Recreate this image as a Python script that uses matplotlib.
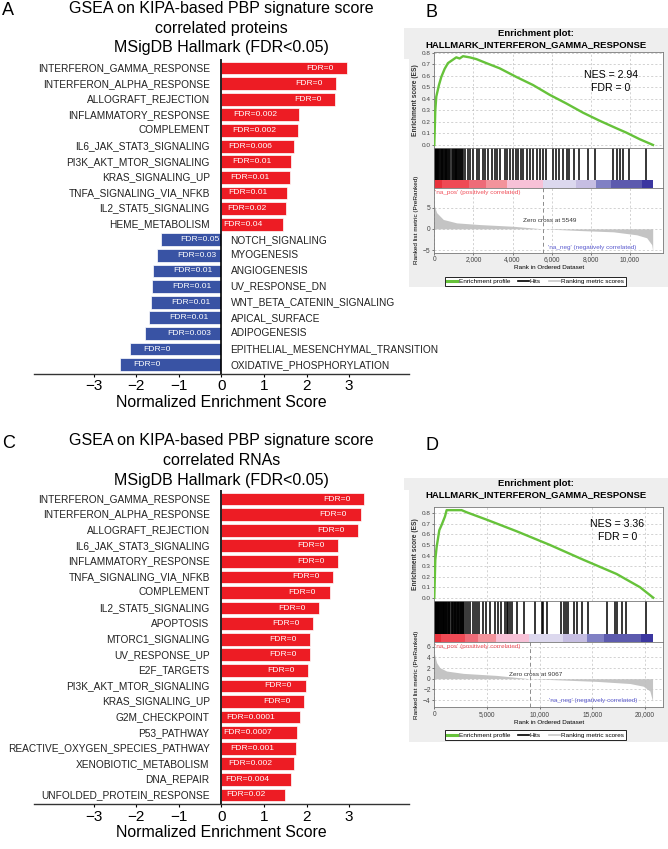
import matplotlib
matplotlib.use('Agg')
import matplotlib.pyplot as plt
import matplotlib.transforms as mtransforms
from matplotlib.lines import Line2D
import numpy as np

plt.rcParams['font.family'] = ['Liberation Sans', 'DejaVu Sans']

# ---- panel A: protein GSEA ----
a_terms = ['INTERFERON_GAMMA_RESPONSE', 'INTERFERON_ALPHA_RESPONSE', 'ALLOGRAFT_REJECTION',
           'INFLAMMATORY_RESPONSE', 'COMPLEMENT', 'IL6_JAK_STAT3_SIGNALING',
           'PI3K_AKT_MTOR_SIGNALING', 'KRAS_SIGNALING_UP', 'TNFA_SIGNALING_VIA_NFKB',
           'IL2_STAT5_SIGNALING', 'HEME_METABOLISM', 'NOTCH_SIGNALING', 'MYOGENESIS',
           'ANGIOGENESIS', 'UV_RESPONSE_DN', 'WNT_BETA_CATENIN_SIGNALING', 'APICAL_SURFACE',
           'ADIPOGENESIS', 'EPITHELIAL_MESENCHYMAL_TRANSITION', 'OXIDATIVE_PHOSPHORYLATION']
a_nes = [2.95, 2.69, 2.67, 1.83, 1.80, 1.71, 1.64, 1.60, 1.55, 1.52, 1.44,
         -1.43, -1.51, -1.60, -1.63, -1.65, -1.70, -1.80, -2.16, -2.39]
a_fdr = ['0', '0', '0', '0.002', '0.002', '0.006', '0.01', '0.01', '0.01', '0.02', '0.04',
         '0.05', '0.03', '0.01', '0.01', '0.01', '0.01', '0.003', '0', '0']

# ---- panel C: RNA GSEA ----
c_terms = ['INTERFERON_GAMMA_RESPONSE', 'INTERFERON_ALPHA_RESPONSE', 'ALLOGRAFT_REJECTION',
           'IL6_JAK_STAT3_SIGNALING', 'INFLAMMATORY_RESPONSE', 'TNFA_SIGNALING_VIA_NFKB',
           'COMPLEMENT', 'IL2_STAT5_SIGNALING', 'APOPTOSIS', 'MTORC1_SIGNALING',
           'UV_RESPONSE_UP', 'E2F_TARGETS', 'PI3K_AKT_MTOR_SIGNALING', 'KRAS_SIGNALING_UP',
           'G2M_CHECKPOINT', 'P53_PATHWAY', 'REACTIVE_OXYGEN_SPECIES_PATHWAY',
           'XENOBIOTIC_METABOLISM', 'DNA_REPAIR', 'UNFOLDED_PROTEIN_RESPONSE']
c_nes = [3.36, 3.27, 3.22, 2.75, 2.74, 2.63, 2.54, 2.29, 2.15, 2.09,
         2.08, 2.04, 1.98, 1.95, 1.84, 1.77, 1.75, 1.70, 1.64, 1.49]
c_fdr = ['0', '0', '0', '0', '0', '0', '0', '0', '0', '0', '0', '0', '0', '0',
         '0.0001', '0.0007', '0.001', '0.002', '0.004', '0.02']

# ---- panel B: enrichment plot (proteins) ----
b_es_rank = [0, 51, 102, 238, 358, 528, 698, 954, 1124, 1295, 1465, 1806, 2147, 2658,
             3339, 4190, 5042, 5894, 6745, 7597, 8449, 9300, 9811, 10492, 11174]
b_es_val = [0, 0.30, 0.42, 0.52, 0.59, 0.66, 0.71, 0.74, 0.76, 0.75, 0.77, 0.76, 0.745, 0.71,
            0.665, 0.59, 0.52, 0.435, 0.36, 0.28, 0.21, 0.145, 0.107, 0.05, 0]
b_hits = [5, 20, 40, 70, 95, 120, 150, 180, 210, 250, 290, 330, 370, 410, 450, 500, 540, 580,
          620, 670, 710, 760, 800, 900, 950, 1000, 1040, 1090, 1130, 1180, 1230, 1280, 1330,
          1380, 1430, 1480, 1567, 1738, 1823, 1959, 2164, 2300, 2504, 2590, 2760, 2930, 3100,
          3186, 3356, 3612, 3731, 3867, 4037, 4174, 4293, 4412, 4549, 4719, 4889, 5060, 5230,
          5400, 5571, 5707, 6082, 6218, 6388, 6593, 6763, 6899, 7138, 7411, 7871, 8212, 9148,
          9319, 9489, 9659, 9949, 10818]
b_cb_edges = [0, 375, 1790, 2640, 3700, 5570, 7220, 8245, 9030, 10600, 11160]
b_m_rank = [0, 34, 119, 460, 1141, 2334, 4037, 5549, 7445, 9148, 10340, 10852, 11107, 11158]
b_m_val = [5.5, 5.0, 3.8, 2.2, 1.4, 1.0, 0.6, 0, -0.4, -0.7, -1.4, -2.1, -3.7, -5.2]

# ---- panel D: enrichment plot (RNAs) ----
d_es_rank = [0, 95, 222, 475, 697, 1013, 1171, 1488, 2121, 2596, 3070, 4970, 7819, 10985,
             14150, 17316, 19532, 20798]
d_es_val = [0, 0.36, 0.48, 0.64, 0.69, 0.77, 0.83, 0.83, 0.83, 0.83, 0.81, 0.74, 0.63, 0.50,
            0.36, 0.225, 0.10, 0]
d_hits = [5, 30, 60, 100, 140, 180, 230, 280, 330, 380, 430, 480, 540, 600, 660, 720, 780,
          840, 900, 960, 1020, 1080, 1150, 1220, 1290, 1360, 1430, 1500, 1650, 1720, 1790,
          1860, 1930, 2000, 2070, 2140, 2210, 2280, 2350, 2420, 2490, 2560, 2630, 2700, 2753,
          2848, 3006, 3228, 3386, 3639, 3861, 4019, 4272, 4652, 4905, 5285, 5759, 6076, 6297,
          6709, 6867, 7025, 7183, 7342, 7880, 8513, 9557, 10190, 10348, 10665, 12025, 12310,
          12500, 12722, 13291, 13513, 13987, 14620, 16361, 17152, 17310, 17785, 18196, 20095]
d_cb_edges = [0, 633, 2911, 4177, 5854, 9019, 12184, 14525, 16139, 19589, 20728]
d_m_rank = [0, 63, 222, 538, 1171, 2753, 5918, 9067, 12247, 15411, 18576, 19842, 20475, 20728]
d_m_val = [4.9, 4.25, 3.0, 2.06, 1.44, 1.0, 0.62, 0, -0.25, -0.5, -0.9, -1.4, -2.3, -4.2]

cb_colors = ['#e8323c', '#ef4a55', '#ee6b78', '#f3939b', '#f7c1d7', '#dcd8ee', '#c6bee2',
             '#8080c4', '#5c5aae', '#3b36a0']

RED = '#ed1c24'
BLUE = '#3953a4'
GREEN = '#66c23a'

W, H = 668, 849
fig = plt.figure(figsize=(W / 100, H / 100), dpi=100)


def fx(x):
    return x / W


def fy(y):
    return 1 - y / H


def px_axes(x0, y0, x1, y1):
    return fig.add_axes([x0 / W, 1 - y1 / H, (x1 - x0) / W, (y1 - y0) / H])


fdr_texts = []


def nes_bars(ax, terms, nes, fdr):
    pos = np.arange(len(terms))
    cols = [RED if v > 0 else BLUE for v in nes]
    ax.barh(pos, nes, height=0.82, color=cols, edgecolor='white', linewidth=0.5, zorder=2)
    ax.axvline(0, color='black', lw=1.2, zorder=3)
    for p, v, term, f in zip(pos, nes, terms, fdr):
        if v > 0:
            ax.annotate(term, (0, p), xytext=(-8.5, 0), textcoords='offset points',
                        ha='right', va='center', fontsize=7.3, color='#222222')
        else:
            ax.annotate(term, (0, p), xytext=(6.5, 0), textcoords='offset points',
                        ha='left', va='center', fontsize=7.3, color='#222222')
        t = ax.text(v, p, 'FDR=' + f, ha='center', va='center', color='white',
                    fontsize=6.1, zorder=4)
        fdr_texts.append((t, -1 if v > 0 else 1))
    ax.set_xlim(-4.4, 4.4)
    ax.set_ylim(len(terms) - 0.42, -0.58)
    ax.set_xticks([-3, -2, -1, 0, 1, 2, 3])
    ax.set_yticks([])
    ax.tick_params(axis='x', labelsize=11, length=2.5, width=0.8, pad=1.5)
    for s in ['top', 'right', 'left']:
        ax.spines[s].set_visible(False)
    ax.spines['bottom'].set_linewidth(1.0)
    ax.spines['bottom'].set_color('#333333')
    ax.set_xlabel('Normalized Enrichment Score', fontsize=11.4, labelpad=1)


def gsea(lay, xmax, xticks, es_ylim, es_rank, es_val, nes_txt, hits, cb_edges,
         m_rank, m_val, m_ylim, m_ticks, zero, zlab, pos_lab, neg_lab):
    py0, py1, e0, e1, h1, r1, leg_y, nes_xy = lay
    bg = px_axes(404, py0, 668, py1)
    bg.set_facecolor('#eeeeee')
    bg.set_xticks([])
    bg.set_yticks([])
    for s in bg.spines.values():
        s.set_visible(False)
    bg.set_zorder(-1)
    fig.text(fx(536), fy(py0 + 5), 'Enrichment plot:', ha='center', va='center',
             fontsize=6.8, fontweight='bold')
    fig.text(fx(536), fy(py0 + 16.5), 'HALLMARK_INTERFERON_GAMMA_RESPONSE', ha='center',
             va='center', fontsize=6.8, fontweight='bold')

    ax1 = px_axes(434.3, e0, 663.3, e1)
    ax1.plot(es_rank, es_val, color=GREEN, lw=1.7, zorder=3)
    ax1.set_xlim(0, xmax)
    ax1.set_ylim(es_ylim)
    ax1.set_yticks(np.round(np.arange(0, 0.81, 0.1), 1))
    ax1.set_yticklabels(['%.1f' % v for v in np.arange(0, 0.81, 0.1)])
    ax1.set_xticks(xticks)
    ax1.set_xticklabels([])
    ax1.grid(True, ls=(0, (3, 3)), color='#c0c0c0', lw=0.5)
    ax1.tick_params(axis='y', labelsize=4.6, length=1.5, width=0.5, pad=1, colors='#444444')
    ax1.tick_params(axis='x', length=0)
    ax1.set_ylabel('Enrichment score (ES)', fontsize=4.8, fontweight='bold', labelpad=2,
                   color='#333333')
    ax1.text(nes_xy[0], nes_xy[1], nes_txt + '\nFDR = 0', transform=ax1.transAxes,
             ha='center', va='center', fontsize=7.6, linespacing=1.35)

    ax2 = px_axes(434.3, e1, 663.3, h1)
    ax2.vlines(hits, 0.19, 1, color='black', lw=1.1)
    for i in range(len(cb_edges) - 1):
        ax2.axvspan(cb_edges[i], cb_edges[i + 1], 0, 0.19, color=cb_colors[i], lw=0)
    ax2.set_xlim(0, xmax)
    ax2.set_ylim(0, 1)
    ax2.set_xticks([])
    ax2.set_yticks([])

    ax3 = px_axes(434.3, h1, 663.3, r1)
    ax3.fill_between(m_rank, 0, m_val, color='#c4c4c4', lw=0)
    ax3.axvline(zero, color='#8c8c8c', ls=(0, (4, 3)), lw=0.7)
    ax3.set_xlim(0, xmax)
    ax3.set_ylim(m_ylim)
    ax3.set_xticks(xticks)
    ax3.set_xticklabels(['{:,}'.format(v) for v in xticks])
    ax3.set_yticks(m_ticks)
    ax3.grid(True, ls=(0, (3, 3)), color='#c0c0c0', lw=0.5)
    ax3.tick_params(labelsize=4.8, length=1.5, width=0.5, pad=1, colors='#444444')
    ax3.set_xlabel('Rank in Ordered Dataset', fontsize=4.6, labelpad=1.5)
    ax3.set_ylabel('Ranked list metric (PreRanked)', fontsize=4.6, labelpad=3)
    ax3.text(zlab[0], zlab[1], 'Zero cross at %d' % zero, ha='center', va='center',
             fontsize=4.6, color='#333333')
    ax3.text(pos_lab[0], pos_lab[1], "'na_pos' (positively correlated)", ha='left',
             va='center', fontsize=4.6, color='#f0505a')
    ax3.text(neg_lab[0], neg_lab[1], "'na_neg' (negatively correlated)", ha='right',
             va='center', fontsize=4.6, color='#5a5acf')

    for ax in (ax1, ax2, ax3):
        for s in ax.spines.values():
            s.set_color('#777777')
            s.set_linewidth(0.6)

    handles = [Line2D([], [], color=GREEN, lw=2.2), Line2D([], [], color='black', lw=1.2),
               Line2D([], [], color='#c8c8c8', lw=1.2)]
    leg = fig.legend(handles, ['Enrichment profile', 'Hits', 'Ranking metric scores'],
                     loc='center', bbox_to_anchor=(fx(535.5), fy(leg_y)), ncol=3,
                     fontsize=4.6, frameon=True, fancybox=False, edgecolor='black',
                     framealpha=1, borderpad=0.3, handlelength=1.6, handletextpad=0.2,
                     columnspacing=1.3)
    leg.get_frame().set_linewidth(0.6)


# bar panels
axA = px_axes(34.3, 59, 408.7, 373.7)
nes_bars(axA, a_terms, a_nes, a_fdr)
axC = px_axes(34.3, 490, 408.7, 804)
nes_bars(axC, c_terms, c_nes, c_fdr)

for y, s in [(8.3, 'GSEA on KIPA-based PBP signature score'), (28.3, 'correlated proteins'),
             (47.7, 'MSigDB Hallmark (FDR<0.05)'),
             (440.7, 'GSEA on KIPA-based PBP signature score'), (460.7, 'correlated RNAs'),
             (480, 'MSigDB Hallmark (FDR<0.05)')]:
    fig.text(fx(221.5), fy(y), s, ha='center', va='center', fontsize=11.5)

for x, y, s in [(8.3, 10.8, 'A'), (431.7, 12.5, 'B'), (8.3, 443, 'C'), (432, 446, 'D')]:
    fig.text(fx(x), fy(y), s, ha='center', va='center', fontsize=13)

gsea((28, 287, 51.7, 148.3, 187.5, 252.7, 281.5, (0.77, 0.695)), 11700,
     [0, 2000, 4000, 6000, 8000, 10000], (-0.029, 0.809), b_es_rank, b_es_val,
     'NES = 2.94', b_hits, b_cb_edges, b_m_rank, b_m_val, (-5.6, 9.7), [-5, 0, 5], 5549,
     (5895, 1.96), (30, 8.6), (10340, -4.3))
gsea((478, 742, 507.3, 601, 641.7, 707.3, 735, (0.80, 0.75)), 21750,
     [0, 5000, 10000, 15000, 20000], (-0.031, 0.857), d_es_rank, d_es_val,
     'NES = 3.36', d_hits, d_cb_edges, d_m_rank, d_m_val, (-5.36, 6.94),
     [-4, -2, 0, 2, 4, 6], 9067, (9640, 0.7), (80, 6.0), (19280, -4.05))

# place FDR labels like ggplot hjust=1.5 / -0.5
fig.canvas.draw()
r = fig.canvas.get_renderer()
for t, sign in fdr_texts:
    w = t.get_window_extent(r).width
    t.set_transform(t.get_transform() +
                    mtransforms.ScaledTranslation(sign * w / fig.dpi, 0, fig.dpi_scale_trans))

fig.savefig('out.png', dpi=100)
